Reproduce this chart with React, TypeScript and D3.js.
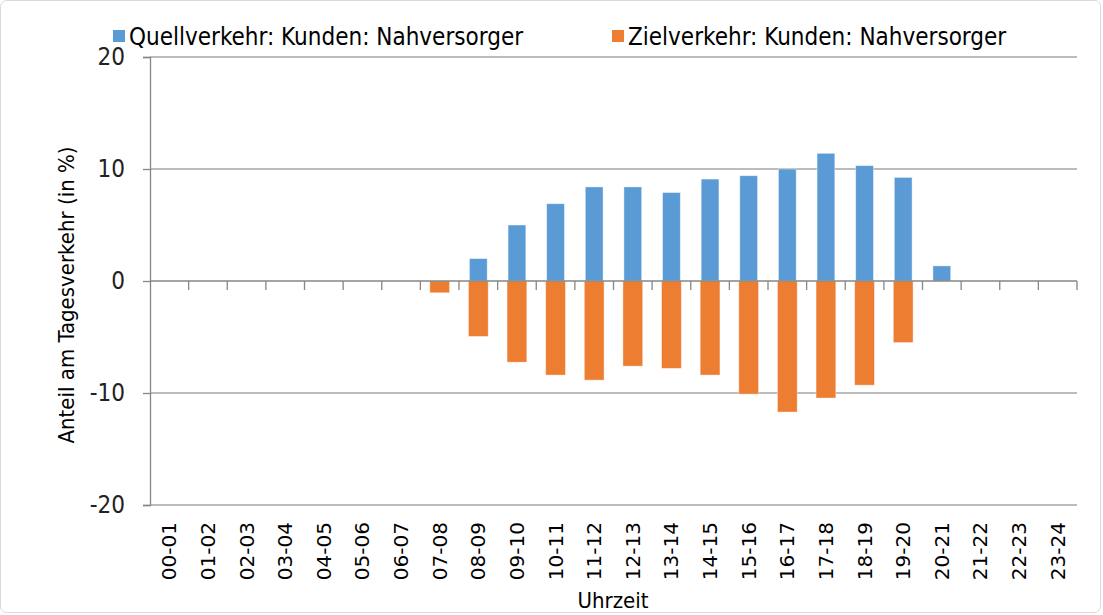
import { useEffect, useRef } from "react";
import * as d3 from "d3";

const hours = [
  "00-01", "01-02", "02-03", "03-04", "04-05", "05-06", "06-07", "07-08",
  "08-09", "09-10", "10-11", "11-12", "12-13", "13-14", "14-15", "15-16",
  "16-17", "17-18", "18-19", "19-20", "20-21", "21-22", "22-23", "23-24",
];
const quellverkehr = [0, 0, 0, 0, 0, 0, 0, 0, 2.0, 5.0, 6.9, 8.4, 8.4, 7.9, 9.1, 9.4, 10.0, 11.4, 10.3, 9.25, 1.35, 0, 0, 0];
const zielverkehr = [0, 0, 0, 0, 0, 0, 0, -1.05, -4.95, -7.25, -8.4, -8.85, -7.6, -7.8, -8.4, -10.1, -11.7, -10.45, -9.3, -5.5, 0, 0, 0, 0];
const yTicks = [-20, -10, 0, 10, 20];
const seriesNames = ["Quellverkehr: Kunden: Nahversorger", "Zielverkehr: Kunden: Nahversorger"];
const colors = ["#5b9bd5", "#ed7d31"];

const W = 1103;
const H = 615;
const font = "'Liberation Sans Narrow', 'DejaVu Sans Condensed', 'Open Sans', sans-serif";

export default function App() {
  const ref = useRef<SVGSVGElement | null>(null);

  useEffect(() => {
    const svg = d3.select(ref.current);
    svg.selectAll("*").remove();

    const margin = { left: 150, right: 26, top: 57, bottom: 110 };
    const x = d3.scaleBand<string>().domain(hours).range([margin.left, W - margin.right]).paddingInner(0.54).paddingOuter(0.27);
    const y = d3.scaleLinear().domain([-20, 20]).range([H - margin.bottom, margin.top]);

    // outer frame
    svg.append("rect")
      .attr("x", 0.5).attr("y", 0.5).attr("width", W - 3).attr("height", H - 3)
      .attr("rx", 6).attr("fill", "white").attr("stroke", "#d9d9d9");

    // gridlines
    svg.append("g").selectAll("line")
      .data(yTicks.filter((t) => t !== 0))
      .enter().append("line")
      .attr("x1", margin.left).attr("x2", W - margin.right)
      .attr("y1", (d) => y(d)).attr("y2", (d) => y(d))
      .attr("stroke", "#a6a6a6").attr("stroke-width", 1.3);

    // bars
    const series = [quellverkehr, zielverkehr];
    series.forEach((vals, si) => {
      svg.append("g").selectAll("rect")
        .data(vals.map((v, i) => ({ h: hours[i], v })).filter((d) => d.v !== 0))
        .enter().append("rect")
        .attr("x", (d) => x(d.h)! - (si === 1 ? 1 : 0))
        .attr("width", x.bandwidth() + (si === 1 ? 2 : 0))
        .attr("y", (d) => Math.min(y(d.v), y(0)))
        .attr("height", (d) => Math.abs(y(d.v) - y(0)))
        .attr("fill", colors[si])
        .attr("stroke", "white").attr("stroke-opacity", 0.5).attr("stroke-width", 0.8);
    });

    // y axis
    const yAxis = svg.append("g").attr("transform", `translate(${margin.left},0)`)
      .call(d3.axisLeft(y).tickValues(yTicks).tickSize(7).tickPadding(18).tickFormat((d) => String(d)));
    yAxis.select(".domain").attr("stroke", "#868686").attr("stroke-width", 1.3);
    yAxis.selectAll(".tick line").attr("stroke", "#868686").attr("stroke-width", 1.3);
    yAxis.selectAll(".tick text").attr("font-family", font).attr("font-size", 24).attr("fill", "#222");

    // zero axis with ticks at category boundaries
    const step = x.step();
    const boundaries = d3.range(1, hours.length + 1).map((i) => margin.left + i * step);
    const zero = svg.append("g");
    zero.append("line")
      .attr("x1", margin.left).attr("x2", W - margin.right)
      .attr("y1", y(0)).attr("y2", y(0))
      .attr("stroke", "#868686").attr("stroke-width", 1.3);
    zero.selectAll("line.tk").data(boundaries).enter().append("line")
      .attr("class", "tk")
      .attr("x1", (d) => d).attr("x2", (d) => d)
      .attr("y1", y(0)).attr("y2", y(0) + 9)
      .attr("stroke", "#868686").attr("stroke-width", 1.3);

    // x labels
    svg.append("g").selectAll("text").data(hours).enter().append("text")
      .attr("transform", (d) => `translate(${x(d)! + x.bandwidth() / 2 + 7},${H - 93}) rotate(-90)`)
      .attr("text-anchor", "end")
      .attr("font-family", "'DejaVu Sans', sans-serif")
      .attr("font-size", 20)
      .attr("fill", "#000")
      .text((d) => d);

    // axis titles
    svg.append("text")
      .attr("x", 613).attr("y", 608)
      .attr("text-anchor", "middle")
      .attr("font-family", font).attr("font-size", 22).attr("fill", "#000")
      .text("Uhrzeit");
    svg.append("text")
      .attr("transform", `translate(74,295) rotate(-90)`)
      .attr("text-anchor", "middle")
      .attr("font-family", font).attr("font-size", 22).attr("fill", "#000")
      .text("Anteil am Tagesverkehr (in %)");

    // legend
    const legendX = [113, 612];
    seriesNames.forEach((name, i) => {
      svg.append("rect")
        .attr("x", legendX[i]).attr("y", 30).attr("width", 12).attr("height", 12)
        .attr("fill", colors[i]);
      svg.append("text")
        .attr("x", legendX[i] + 16).attr("y", 45)
        .attr("font-family", font).attr("font-size", 24).attr("fill", "#000")
        .text(name);
    });
  }, []);

  return (
    <svg ref={ref} width={W} height={H} style={{ position: "absolute", left: 0, top: 0 }} />
  );
}
